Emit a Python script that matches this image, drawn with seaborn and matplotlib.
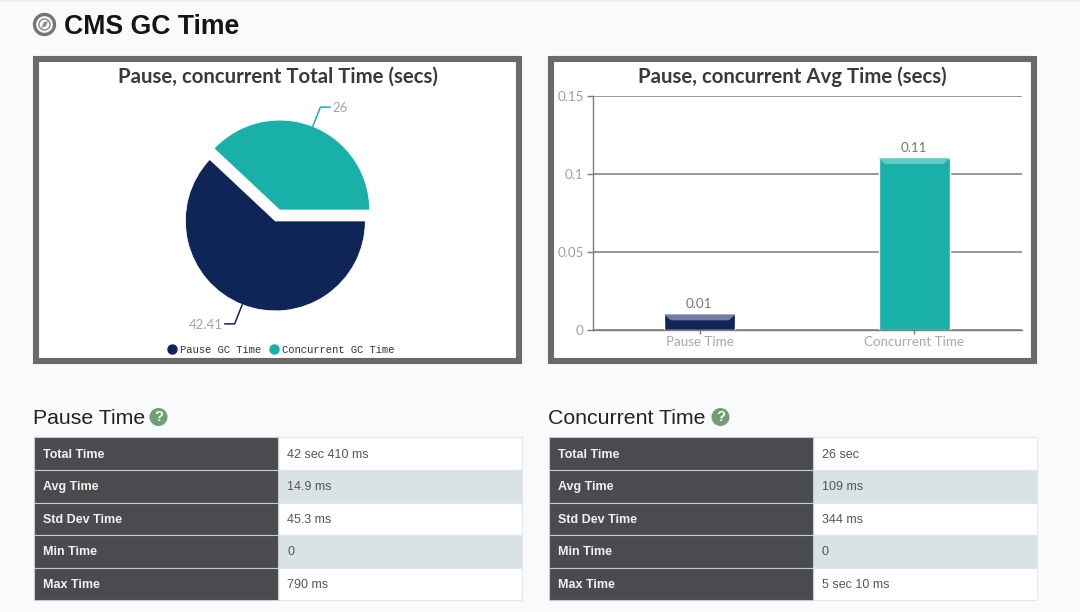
import pandas as pd
import numpy as np
import matplotlib
matplotlib.use("Agg")
import matplotlib.pyplot as plt
import seaborn as sns
from matplotlib.lines import Line2D
from matplotlib.patches import Circle, Polygon, Rectangle

W, H = 1080, 612

# chart data
pie_labels = ["Pause GC Time", "Concurrent GC Time"]
pie_values = [42.41, 26]
pie_value_text = ["42.41", "26"]
bar_labels = ["Pause Time", "Concurrent Time"]
bar_values = [0.01, 0.11]
bar_value_text = ["0.01", "0.11"]
y_ticks = [0, 0.05, 0.1, 0.15]
y_tick_labels = ["0", "0.05", "0.1", "0.15"]

# table data
row_names = ["Total Time", "Avg Time", "Std Dev Time", "Min Time", "Max Time"]
pause_rows = ["42 sec 410 ms", "14.9 ms", "45.3 ms", "0", "790 ms"]
concurrent_rows = ["26 sec", "109 ms", "344 ms", "0", "5 sec 10 ms"]

NAVY = "#0f2557"
TEAL = "#18b0a8"
PAGE = "#f9fafb"
FRAME = "#6a6a6a"
DARK_CELL = "#4a4b4e"
ALT_CELL = "#d9e2e5"
CHART_FONT = "Lato"
PAGE_FONT = "Liberation Sans"

sns.set_theme(style="white")
plt.rcParams["font.family"] = [PAGE_FONT, "DejaVu Sans"]


def axes_px(fig, left, top, right, bottom):
    """Add axes placed by pixel edges, y counted from the top."""
    return fig.add_axes([left / W, 1 - bottom / H, (right - left) / W, (bottom - top) / H])


def draw_page(ax):
    ax.set_xlim(0, W)
    ax.set_ylim(H, 0)
    ax.axis("off")
    ax.add_patch(Rectangle((0, 0), W, H, fc=PAGE, ec="none"))
    ax.add_patch(Rectangle((0, 0), W, 2, fc="#eeeeee", ec="none"))

    # heading and compass icon
    ax.add_patch(Circle((44.5, 24.5), 10, fc="none", ec="#757575", lw=2.4))
    ax.add_patch(Circle((44.5, 24.5), 5.5, fc="none", ec="#8a8a8a", lw=1.0))
    ax.add_patch(Polygon([(41.5, 28), (43.5, 22.5), (48, 21), (46, 26)], fc="#8a8a8a", ec="none"))
    ax.text(63.5, 26.5, "CMS GC Time", fontsize=19.2, fontweight="bold", color="#151515", va="center")

    # chart frames
    for left in (33, 548):
        ax.add_patch(Rectangle((left + 3, 59), 483, 302, fc="white", ec=FRAME, lw=4.4))


def draw_table(ax, left, title, values):
    label_right = left + 244 if left < 100 else left + 264
    right = left + 487.5
    top = 437.3
    row_h = 32.6
    ax.text(left - 1, 419, title, fontsize=15.3, color="#222222", va="center")
    icon_x = left + 124.5 if left < 100 else left + 171.5
    ax.add_patch(Circle((icon_x, 417), 9, fc="#6f9f72", ec="none"))
    ax.text(icon_x, 417.3, "?", fontsize=10.5, fontweight="bold", color="white", ha="center", va="center")

    for i, (name, value) in enumerate(zip(row_names, values)):
        y = top + i * row_h
        fill = ALT_CELL if i % 2 else "white"
        ax.add_patch(Rectangle((label_right, y), right - label_right, row_h, fc=fill, ec="#e3e7ea", lw=0.8))
        ax.add_patch(Rectangle((left, y), label_right - left, row_h, fc=DARK_CELL, ec="#c8c9cb", lw=0.8))
        ax.text(left + 9, y + row_h / 2 + 1, name, fontsize=9, fontweight="bold", color="#f2f2f2", va="center")
        ax.text(label_right + 9, y + row_h / 2 + 1, value, fontsize=9, color="#555555", va="center")


def draw_pie(fig):
    # 270 px wide axes holding three data units, so the radius comes out at 90 px
    ax = axes_px(fig, 142.5, 80.5, 412.5, 350.5)
    ax.patch.set_alpha(0)
    wedges, _ = ax.pie(pie_values, colors=[NAVY, TEAL], explode=[0.065, 0.065],
                       startangle=0, counterclock=False,
                       wedgeprops={"linewidth": 0.6, "edgecolor": "white"})
    ax.set_xlim(-1.5, 1.5)
    ax.set_ylim(-1.5, 1.5)

    # leader lines start at the middle of each slice
    for wedge, text, color in zip(wedges, pie_value_text, [NAVY, TEAL]):
        mid = np.deg2rad((wedge.theta1 + wedge.theta2) / 2)
        cx, cy = wedge.center
        x0, y0 = cx + wedge.r * np.cos(mid), cy + wedge.r * np.sin(mid)
        x1, y1 = cx + 1.23 * np.cos(mid), cy + 1.23 * np.sin(mid)
        side = 1 if np.cos(mid) > 0 else -1
        x2 = x1 + side * 0.11
        ax.plot([x0, x1, x2], [y0, y1, y1], color=color, lw=1.1, clip_on=False)
        ax.text(x2 + side * 0.02, y1 - 0.008, text, fontsize=9.5, color="#a5a5a5", family=CHART_FONT,
                ha="left" if side > 0 else "right", va="center")

    fig.text(277.5 / W, 1 - 77 / H, "Pause, concurrent Total Time (secs)", fontsize=14.7,
             fontweight="bold", family=CHART_FONT, color="#3a3a3a", ha="center", va="center")

    handles = [Line2D([], [], marker="o", ls="", ms=6.5, color=c) for c in (NAVY, TEAL)]
    fig.legend(handles, pie_labels, loc="center", bbox_to_anchor=(278 / W, 1 - 350 / H), ncol=2,
               frameon=False, prop={"family": "Liberation Mono", "size": 7.6},
               labelcolor="#333333", handletextpad=-0.2, columnspacing=0.2, borderpad=0)


def draw_bars(fig):
    ax = axes_px(fig, 593.3, 95.7, 1022, 330)
    ax.patch.set_alpha(0)
    df = pd.DataFrame({"name": bar_labels, "secs": bar_values})
    ax.set_axisbelow(True)
    sns.barplot(data=df, x="name", y="secs", hue="name", palette=[NAVY, TEAL], width=0.332,
                saturation=1, legend=False, ax=ax)

    ax.set_ylim(y_ticks[0], y_ticks[-1])
    ax.set_xlim(-0.497, 1.503)
    ax.set_xlabel("")
    ax.set_ylabel("")
    ax.set_yticks(y_ticks, y_tick_labels)
    ax.grid(axis="y", color="#7c7c7c", lw=1.1)
    ax.grid(axis="x", visible=False)
    sns.despine(ax=ax, top=True, right=True)
    for side in ("left", "bottom"):
        ax.spines[side].set_color("#7c7c7c")
        ax.spines[side].set_linewidth(1.0)
    ax.tick_params(axis="y", left=True, length=4, width=1, color="#7c7c7c", labelcolor="#a0a0a0",
                   labelsize=9.6, pad=3)
    ax.tick_params(axis="x", bottom=True, length=3, width=1, color="#7c7c7c", labelcolor="#a8a8a8",
                   labelsize=9.6, pad=1.5)
    for label in ax.get_xticklabels() + ax.get_yticklabels():
        label.set_family(CHART_FONT)

    # lighter bevel along the top of each bar
    for bar, text, color in zip(ax.patches, bar_value_text, ["#6f7fa3", "#5fcbc4"]):
        x, w, h = bar.get_x(), bar.get_width(), bar.get_height()
        inset, drop = 0.03, 0.0038
        ax.add_patch(Polygon([(x, h), (x + w, h), (x + w - inset, h - drop), (x + inset, h - drop)],
                             fc=color, ec="none", zorder=bar.get_zorder() + 0.1))
        ax.annotate(text, (x + w / 2 - 0.004, h), xytext=(0, 3), textcoords="offset points", ha="center",
                    va="bottom", fontsize=9.6, color="#777777", family=CHART_FONT)

    fig.text(792.5 / W, 1 - 77 / H, "Pause, concurrent Avg Time (secs)", fontsize=14.7,
             fontweight="bold", family=CHART_FONT, color="#3a3a3a", ha="center", va="center")


fig = plt.figure(figsize=(W / 100, H / 100), dpi=100, facecolor=PAGE)
page = fig.add_axes([0, 0, 1, 1])
draw_page(page)
draw_table(page, 34, "Pause Time", pause_rows)
draw_table(page, 549, "Concurrent Time", concurrent_rows)
draw_pie(fig)
draw_bars(fig)
fig.savefig("out.png", dpi=100)
